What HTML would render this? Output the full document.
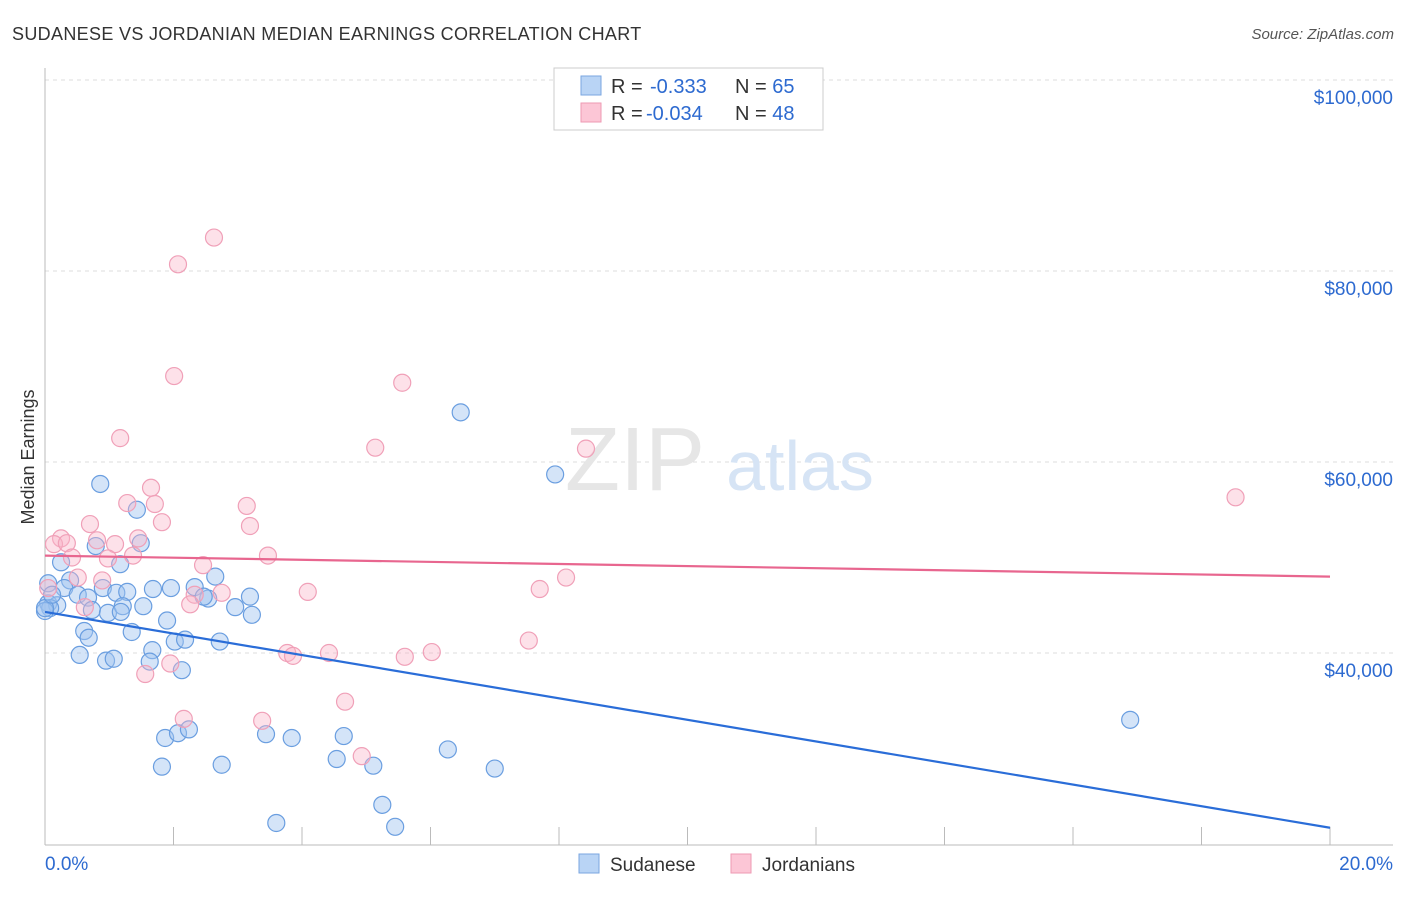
<!DOCTYPE html>
<html><head><meta charset="utf-8"><style>
body{margin:0;background:#fff;font-family:"Liberation Sans",sans-serif}
svg text{font-family:"Liberation Sans",sans-serif}
</style></head><body>
<svg id="c" width="1406" height="892" xmlns="http://www.w3.org/2000/svg">
<text x="12" y="40" font-size="18" fill="#333" letter-spacing="0.33">SUDANESE VS JORDANIAN MEDIAN EARNINGS CORRELATION CHART</text>
<text x="1394" y="39" font-size="15" fill="#555" text-anchor="end" font-style="italic">Source: ZipAtlas.com</text>
<text x="34" y="457" font-size="18" fill="#333" text-anchor="middle" transform="rotate(-90 34 457)">Median Earnings</text>
<g id="grid"></g>
<g><text x="635" y="490" font-size="90" fill="#e6e6e6" text-anchor="middle" font-family="Liberation Serif">ZIP</text><text x="800" y="490" font-size="70" fill="#d6e4f5" text-anchor="middle">atlas</text></g>
<g id="pts"></g>
<g id="lines"></g>
<g>
<rect x="554" y="68" width="269" height="62" fill="#fff" stroke="#ccc"/>
<rect x="581" y="76" width="20" height="19" fill="#b9d4f5" stroke="#7aa6e0"/>
<rect x="581" y="103" width="20" height="19" fill="#fcc6d6" stroke="#ee9ab3"/>
<text x="611" y="93" font-size="20" fill="#333">R = <tspan x="650" fill="#2d6ad0">-0.333</tspan><tspan x="735">N = </tspan><tspan fill="#2d6ad0">65</tspan></text>
<text x="611" y="120" font-size="20" fill="#333">R = <tspan x="646" fill="#2d6ad0">-0.034</tspan><tspan x="735">N = </tspan><tspan fill="#2d6ad0">48</tspan></text>
</g>
<g>
<rect x="579" y="854" width="20" height="19" fill="#b9d4f5" stroke="#7aa6e0"/>
<text x="610" y="871" font-size="19" fill="#333">Sudanese</text>
<rect x="731" y="854" width="20" height="19" fill="#fcc6d6" stroke="#ee9ab3"/>
<text x="762" y="871" font-size="19" fill="#333">Jordanians</text>
</g>
</svg>
<script>
const yTicks=[40000,60000,80000,100000];
const yTickLabels=["$40,000","$60,000","$80,000","$100,000"];
const xTickLabels=["0.0%","20.0%"];
const sudX=[0.86,1.43,0.79,1.49,0.25,1.17,0.39,0.05,0.30,0.51,0.67,0.90,1.11,1.28,1.68,1.96,2.33,2.65,3.19,2.54,2.47,0.05,0.19,0.73,0.98,1.21,1.53,1.18,1.90,3.22,2.96,0.08,0.0,0.61,0.68,1.35,1.67,2.02,2.18,2.72,0.54,0.95,1.07,1.63,2.13,1.87,2.07,2.24,1.82,2.75,3.44,3.84,4.65,4.54,5.11,6.27,7.00,5.25,3.60,5.45,6.47,7.94,16.89,0.0,0.11];
const sudY=[57700,55000,51200,51500,49500,49300,47600,47300,46800,46100,45800,46800,46300,46400,46700,46800,46900,48000,45900,45700,45900,45200,45000,44500,44200,44900,44900,44300,43400,44000,44800,44700,44400,42300,41600,42200,40300,41200,41400,41200,39800,39200,39400,39100,38200,31100,31600,32000,28100,28300,31500,31100,31300,28900,28200,29900,27900,24100,22200,21800,65200,58700,33000,44700,46100];
const jorX=[2.63,2.07,2.01,5.56,1.17,5.14,8.42,18.53,1.65,1.28,1.71,3.14,0.70,1.82,3.19,1.45,0.25,0.14,0.34,1.09,0.81,0.42,1.37,0.98,3.47,2.46,0.51,0.89,8.11,7.70,0.05,4.09,2.75,2.33,2.26,0.62,7.53,3.77,3.86,4.42,5.60,6.02,1.56,1.95,4.67,2.16,3.38,4.93];
const jorY=[83500,80700,69000,68300,62500,61500,61400,56300,57300,55700,55600,55400,53500,53700,53300,52000,52000,51400,51500,51400,51800,50000,50200,49900,50200,49200,47900,47600,47900,46700,46800,46400,46300,46100,45100,44800,41300,40000,39700,40000,39600,40100,37800,38900,34900,33100,32900,29200];
const reg={sud:[0,44300,20,21700],jor:[0,50200,20,48000]};
const X=v=>45+v/20*1285, Y=v=>653-(v-40000)*191/20000;
const NS="http://www.w3.org/2000/svg", svg=document.getElementById('c');
function mk(t,a,p){const e=document.createElementNS(NS,t);for(const k in a)e.setAttribute(k,a[k]);p.appendChild(e);return e;}
const g=document.getElementById('grid');
yTicks.forEach((v,i)=>{const l=mk('line',{x1:45,x2:1393,y1:Y(v),y2:Y(v),stroke:'#ddd','stroke-dasharray':'4,4'},g);


const t=mk('text',{x:1393,y:Y(v)+24,'font-size':19,fill:'#2d6ad0','text-anchor':'end'},g);t.textContent=yTickLabels[i];

});
const ax=mk('line',{x1:45,x2:45,y1:68,y2:845,stroke:'#bbb'},g);


const bx=mk('line',{x1:45,x2:1393,y1:845,y2:845,stroke:'#bbb'},g);


for(let i=1;i<=10;i++){const tk=mk('line',{x1:X(i*2),x2:X(i*2),y1:827,y2:845,stroke:'#bbb'},g);

}
[[0,'start',45],[20,'end',1393]].forEach((d,i)=>{const t=mk('text',{x:d[2],y:870,'font-size':19,fill:'#2d6ad0','text-anchor':d[1]},g);t.textContent=xTickLabels[i];

});
const P=document.getElementById('pts');
sudX.forEach((v,i)=>{const c=mk('circle',{cx:X(v),cy:Y(sudY[i]),r:8.5,fill:'rgba(160,196,240,0.45)',stroke:'#6a9ee0','stroke-width':1.2},P);

});
jorX.forEach((v,i)=>{const c=mk('circle',{cx:X(v),cy:Y(jorY[i]),r:8.5,fill:'rgba(250,180,200,0.4)',stroke:'#f0a0b8','stroke-width':1.2},P);

});
const L=document.getElementById('lines');
const l1=mk('line',{x1:X(reg.sud[0]),y1:Y(reg.sud[1]),x2:X(reg.sud[2]),y2:Y(reg.sud[3]),stroke:'#2a6dd8','stroke-width':2.2},L);


const l2=mk('line',{x1:X(reg.jor[0]),y1:Y(reg.jor[1]),x2:X(reg.jor[2]),y2:Y(reg.jor[3]),stroke:'#e8668f','stroke-width':2.2},L);


</script>
</body></html>
